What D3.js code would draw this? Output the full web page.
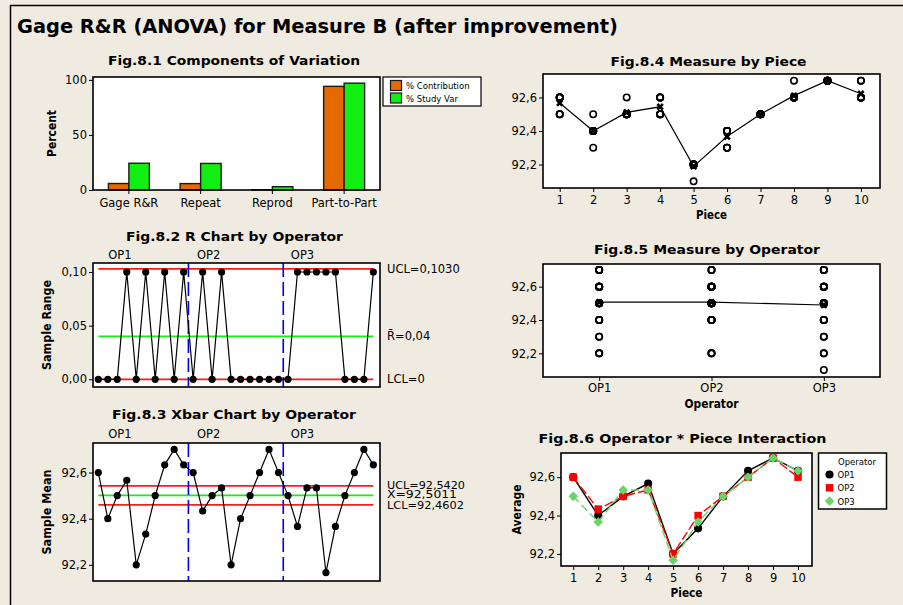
<!DOCTYPE html>
<meta charset="utf-8">
<style>
body { margin: 0; background: #efebe1; }
svg { display: block; }
text { font-family: 'DejaVu Sans', Verdana, sans-serif; fill: #000; }
</style>
<body>
<script src="https://d3js.org/d3.v7.min.js"></script>
<script>

// ---------- data ----------
var components = ["Gage R&R", "Repeat", "Reprod", "Part-to-Part"];
var pctContribution = [5.9, 5.8, 0.1, 94.1];
var pctStudyVar = [24.3, 24.1, 3.0, 97.0];
var varSeries = ["% Contribution", "% Study Var"];

var operators = ["OP1", "OP2", "OP3"];
var pieces = [1, 2, 3, 4, 5, 6, 7, 8, 9, 10];

// 3 trials per piece, per operator
var op1 = [[92.6, 92.6, 92.6], [92.4, 92.4, 92.4], [92.5, 92.5, 92.5], [92.6, 92.6, 92.5], [92.2, 92.2, 92.2],
           [92.3, 92.3, 92.4], [92.5, 92.5, 92.5], [92.6, 92.6, 92.7], [92.7, 92.7, 92.7], [92.6, 92.6, 92.7]];
var op2 = [[92.6, 92.6, 92.6], [92.4, 92.4, 92.5], [92.5, 92.5, 92.5], [92.5, 92.5, 92.6], [92.2, 92.2, 92.2],
           [92.4, 92.4, 92.4], [92.5, 92.5, 92.5], [92.6, 92.6, 92.6], [92.7, 92.7, 92.7], [92.6, 92.6, 92.6]];
var op3 = [[92.5, 92.5, 92.5], [92.4, 92.4, 92.3], [92.5, 92.5, 92.6], [92.5, 92.5, 92.6], [92.2, 92.2, 92.1],
           [92.4, 92.4, 92.3], [92.5, 92.5, 92.5], [92.6, 92.6, 92.6], [92.7, 92.7, 92.7], [92.6, 92.6, 92.7]];

var rUCL = 0.1030, rBar = 0.04, rLCL = 0;
var xUCL = 92.5420, xBar = 92.5011, xLCL = 92.4602;

var tickPercent = [0, 50, 100];
var tickRange = [0, 0.05, 0.10];
var tickMeasure = [92.2, 92.4, 92.6];

// ---------- derived ----------
var loc = d3.formatLocale({decimal: ",", thousands: ".", grouping: [3], currency: ["", ""]});
var f1 = loc.format(".1f"), f2 = loc.format(".2f"), f4 = loc.format(".4f");

var trials = [op1, op2, op3];
var subgroups = [];
trials.forEach(function(op, i) {
  op.forEach(function(vals, j) {
    subgroups.push({op: operators[i], piece: pieces[j], idx: i * pieces.length + j + 1,
      mean: d3.mean(vals), range: +(d3.max(vals) - d3.min(vals)).toFixed(3), vals: vals});
  });
});
var allPoints = [];
subgroups.forEach(function(s) { s.vals.forEach(function(v) { allPoints.push({op: s.op, piece: s.piece, v: v}); }); });
var pieceMeans = pieces.map(function(p) { return {piece: p, mean: d3.mean(allPoints.filter(function(d) { return d.piece === p; }), function(d) { return d.v; })}; });
var opMeans = operators.map(function(o) { return {op: o, mean: d3.mean(allPoints.filter(function(d) { return d.op === o; }), function(d) { return d.v; })}; });

// ---------- canvas ----------
var svg = d3.select("body").append("svg").attr("width", 903).attr("height", 605);
svg.append("rect").attr("width", 903).attr("height", 605).attr("fill", "#efebe1");
svg.append("path").attr("d", "M10.5,605V5.5H903").attr("fill", "none").attr("stroke", "#000").attr("stroke-width", 1.5);

svg.append("text").attr("x", 17).attr("y", 33)
    .attr("font-size", 20).attr("font-weight", "bold")
    .attr("textLength", 601).attr("lengthAdjust", "spacingAndGlyphs")
    .text("Gage R&R (ANOVA) for Measure B (after improvement)");

function title(str, cx, y, len) {
  svg.append("text").attr("x", cx).attr("y", y).attr("text-anchor", "middle")
      .attr("font-size", 13).attr("font-weight", "bold")
      .attr("textLength", len).attr("lengthAdjust", "spacingAndGlyphs").text(str);
}
function yTitle(str, x, cy, len) {
  svg.append("text").attr("transform", "translate(" + x + "," + cy + ") rotate(-90)")
      .attr("text-anchor", "middle").attr("dy", "0.35em")
      .attr("font-size", 12).attr("font-weight", "bold")
      .attr("textLength", len).attr("lengthAdjust", "spacingAndGlyphs").text(str);
}
function xTitle(str, cx, y, len) {
  svg.append("text").attr("x", cx).attr("y", y).attr("text-anchor", "middle")
      .attr("font-size", 12).attr("font-weight", "bold")
      .attr("textLength", len).attr("lengthAdjust", "spacingAndGlyphs").text(str);
}
function plotBg(p) {
  svg.append("rect").attr("x", p.l).attr("y", p.t).attr("width", p.r - p.l).attr("height", p.b - p.t).attr("fill", "#fff");
}
function frame(p) {
  svg.append("rect").attr("x", p.l).attr("y", p.t).attr("width", p.r - p.l).attr("height", p.b - p.t)
      .attr("fill", "none").attr("stroke", "#000").attr("stroke-width", 1.6);
}
function yAxis(p, y, ticks, fmt) {
  var g = svg.append("g").attr("transform", "translate(" + p.l + ",0)")
      .call(d3.axisLeft(y).tickValues(ticks).tickFormat(fmt).tickSize(4).tickPadding(2).tickSizeOuter(0));
  g.attr("font-size", 11.5).attr("font-family", null);
  g.select(".domain").remove();
}
function xAxis(p, x, ticks, pad) {
  var ax = d3.axisBottom(x).tickSize(4).tickPadding(pad).tickSizeOuter(0);
  if (ticks) ax.tickValues(ticks).tickFormat(d3.format("d"));
  var g = svg.append("g").attr("transform", "translate(0," + p.b + ")").call(ax);
  g.attr("font-size", 11.5).attr("font-family", null);
  g.select(".domain").remove();
}
function hline(x0, x1, yv, color) {
  svg.append("line").attr("x1", x0).attr("x2", x1).attr("y1", yv).attr("y2", yv)
      .attr("stroke", color).attr("stroke-width", 1.8);
}

// ---------- Fig 8.1 ----------
var p1 = {l: 93, t: 77, r: 380, b: 190};
var x1 = d3.scaleBand().domain(components).range([p1.l, p1.r]);
var x1s = d3.scaleBand().domain(varSeries).range([0, x1.bandwidth()]).paddingOuter(0.75);
var y1 = d3.scaleLinear().domain([0, 102.6]).range([p1.b, p1.t]);
var barColor = d3.scaleOrdinal().domain(varSeries).range(["#e46a00", "#11ee11"]);
title("Fig.8.1 Components of Variation", 234, 65, 252);
plotBg(p1);
var barData = [];
components.forEach(function(c, i) {
  barData.push({c: c, s: varSeries[0], v: pctContribution[i]});
  barData.push({c: c, s: varSeries[1], v: pctStudyVar[i]});
});
svg.append("g").selectAll("rect").data(barData).enter().append("rect")
    .attr("x", function(d) { return x1(d.c) + x1s(d.s); })
    .attr("width", x1s.bandwidth())
    .attr("y", function(d) { return y1(d.v); })
    .attr("height", function(d) { return y1(0) - y1(d.v); })
    .attr("fill", function(d) { return barColor(d.s); })
    .attr("stroke", "#1a1a1a").attr("stroke-width", 1.4);
frame(p1);
yAxis(p1, y1, tickPercent, d3.format("d"));
xAxis(p1, x1, null, 5);
yTitle("Percent", 52, (p1.t + p1.b) / 2, 47);

var lg1 = svg.append("g");
lg1.append("rect").attr("x", 383).attr("y", 77).attr("width", 98).attr("height", 29)
    .attr("fill", "#fff").attr("stroke", "#000").attr("stroke-width", 1.2);
varSeries.forEach(function(s, i) {
  lg1.append("rect").attr("x", 390.5).attr("y", 80.5 + i * 12.5).attr("width", 11).attr("height", 10)
      .attr("fill", barColor(s)).attr("stroke", "#1a1a1a").attr("stroke-width", 1.2);
  lg1.append("text").attr("x", 406).attr("y", 89 + i * 12.5).attr("font-size", 8.5).text(s);
});

// ---------- Fig 8.2 / 8.3 shared ----------
var idxDomain = [0.44, 30.7];
function opSections(p, x, labelY) {
  [10.5, 20.5].forEach(function(b) {
    svg.append("line").attr("x1", x(b)).attr("x2", x(b)).attr("y1", p.t).attr("y2", p.b)
        .attr("stroke", "#0000ee").attr("stroke-width", 1.6).attr("stroke-dasharray", "14,5");
  });
  [2.05, 11.4, 21.3].forEach(function(pos, i) {
    svg.append("text").attr("x", x(pos)).attr("y", labelY).attr("font-size", 11.5).text(operators[i]);
  });
}
function seriesLine(x, y, key) {
  svg.append("path").datum(subgroups)
      .attr("d", d3.line().x(function(d) { return x(d.idx); }).y(function(d) { return y(d[key]); }))
      .attr("fill", "none").attr("stroke", "#000").attr("stroke-width", 1.2);
  svg.append("g").selectAll("circle").data(subgroups).enter().append("circle")
      .attr("cx", function(d) { return x(d.idx); })
      .attr("cy", function(d) { return y(d[key]); })
      .attr("r", 3.6).attr("fill", "#000");
}

// ---------- Fig 8.2 ----------
var p2 = {l: 93, t: 263, r: 380, b: 387};
var x2 = d3.scaleLinear().domain(idxDomain).range([p2.l, p2.r]);
var y2 = d3.scaleLinear().domain([-0.0072, 0.1084]).range([p2.b, p2.t]);
title("Fig.8.2 R Chart by Operator", 234.5, 240.5, 217);
plotBg(p2);
hline(x2(1), x2(30), y2(rUCL), "#ff1a1a");
hline(x2(1), x2(30), y2(rBar), "#11ee11");
hline(x2(1), x2(30), y2(rLCL), "#ff1a1a");
opSections(p2, x2, 259);
seriesLine(x2, y2, "range");
frame(p2);
yAxis(p2, y2, tickRange, f2);
yTitle("Sample Range", 47, (p2.t + p2.b) / 2, 90);
svg.append("text").attr("x", 387).attr("y", y2(rUCL) + 4).attr("font-size", 11.5).text("UCL=" + f4(rUCL));
svg.append("text").attr("x", 387).attr("y", y2(rBar) + 4).attr("font-size", 11.5).text("R\u0304=" + f2(rBar));
svg.append("text").attr("x", 387).attr("y", y2(rLCL) + 4).attr("font-size", 11.5).text("LCL=" + rLCL);

// ---------- Fig 8.3 ----------
var p3 = {l: 93, t: 443, r: 380, b: 581};
var x3 = d3.scaleLinear().domain(idxDomain).range([p3.l, p3.r]);
var y3 = d3.scaleLinear().domain([92.13, 92.728]).range([p3.b, p3.t]);
title("Fig.8.3 Xbar Chart by Operator", 234, 419, 244);
plotBg(p3);
hline(x3(1), x3(30), y3(xUCL), "#ff1a1a");
hline(x3(1), x3(30), y3(xBar), "#11ee11");
hline(x3(1), x3(30), y3(xLCL), "#ff1a1a");
opSections(p3, x3, 438);
seriesLine(x3, y3, "mean");
frame(p3);
yAxis(p3, y3, tickMeasure, f1);
yTitle("Sample Mean", 47, (p3.t + p3.b) / 2, 85);
// the three limit labels sit tight together, as in the original
svg.append("text").attr("x", 387).attr("y", y3(xUCL) + 3).attr("font-size", 10.5)
    .attr("textLength", 78).attr("lengthAdjust", "spacingAndGlyphs").text("UCL=" + f4(xUCL));
svg.append("text").attr("x", 387).attr("y", y3(xBar) + 2.5).attr("font-size", 10.5)
    .attr("textLength", 70).attr("lengthAdjust", "spacingAndGlyphs").text("X\u0304=" + f4(xBar));
svg.append("text").attr("x", 387).attr("y", y3(xLCL) + 4).attr("font-size", 10.5)
    .attr("textLength", 77).attr("lengthAdjust", "spacingAndGlyphs").text("LCL=" + f4(xLCL));

// ---------- Fig 8.4 ----------
var crossSym = d3.symbol().type(d3.symbolCross).size(34);
var p4 = {l: 543, t: 74, r: 880, b: 188};
var x4 = d3.scaleLinear().domain([0.5, 10.57]).range([p4.l, p4.r]);
var y4 = d3.scaleLinear().domain([92.06, 92.74]).range([p4.b, p4.t]);
title("Fig.8.4 Measure by Piece", 708.5, 66, 196);
plotBg(p4);
svg.append("g").selectAll("circle").data(allPoints).enter().append("circle")
    .attr("cx", function(d) { return x4(d.piece); })
    .attr("cy", function(d) { return y4(d.v); })
    .attr("r", 3.2).attr("fill", "none").attr("stroke", "#000").attr("stroke-width", 1.6);
svg.append("path").datum(pieceMeans)
    .attr("d", d3.line().x(function(d) { return x4(d.piece); }).y(function(d) { return y4(d.mean); }))
    .attr("fill", "none").attr("stroke", "#000").attr("stroke-width", 1.2);
svg.append("g").selectAll("path").data(pieceMeans).enter().append("path")
    .attr("d", crossSym)
    .attr("transform", function(d) { return "translate(" + x4(d.piece) + "," + y4(d.mean) + ") rotate(45)"; })
    .attr("fill", "#000");
frame(p4);
yAxis(p4, y4, tickMeasure, f1);
xAxis(p4, x4, pieces, 4);
xTitle("Piece", (p4.l + p4.r) / 2, 219, 31);

// ---------- Fig 8.5 ----------
var p5 = {l: 543, t: 264, r: 880, b: 377};
var x5 = d3.scalePoint().domain(operators).range([p5.l, p5.r]).padding(0.5);
var y5 = d3.scaleLinear().domain([92.058, 92.736]).range([p5.b, p5.t]);
title("Fig.8.5 Measure by Operator", 707, 254, 226);
plotBg(p5);
svg.append("g").selectAll("circle").data(allPoints).enter().append("circle")
    .attr("cx", function(d) { return x5(d.op); })
    .attr("cy", function(d) { return y5(d.v); })
    .attr("r", 3.2).attr("fill", "none").attr("stroke", "#000").attr("stroke-width", 1.6);
svg.append("path").datum(opMeans)
    .attr("d", d3.line().x(function(d) { return x5(d.op); }).y(function(d) { return y5(d.mean); }))
    .attr("fill", "none").attr("stroke", "#000").attr("stroke-width", 1.2);
svg.append("g").selectAll("path").data(opMeans).enter().append("path")
    .attr("d", crossSym)
    .attr("transform", function(d) { return "translate(" + x5(d.op) + "," + y5(d.mean) + ") rotate(45)"; })
    .attr("fill", "#000");
frame(p5);
yAxis(p5, y5, tickMeasure, f1);
xAxis(p5, x5, null, 3);
xTitle("Operator", (p5.l + p5.r) / 2, 407.5, 54);

// ---------- Fig 8.6 ----------
var p6 = {l: 561, t: 453, r: 812, b: 566};
var x6 = d3.scaleLinear().domain([0.51, 10.56]).range([p6.l, p6.r]);
var y6 = d3.scaleLinear().domain([92.137, 92.726]).range([p6.b, p6.t]);
var opColor = d3.scaleOrdinal().domain(operators).range(["#000000", "#ff0000", "#6ad46a"]);
var opDash = d3.scaleOrdinal().domain(operators).range([null, "9,3", "8,4"]);
var opSym = d3.scaleOrdinal().domain(operators).range([
  d3.symbol().type(d3.symbolCircle).size(52),
  d3.symbol().type(d3.symbolSquare).size(56),
  d3.symbol().type(d3.symbolSquare).size(46)]);
var opRot = d3.scaleOrdinal().domain(operators).range([0, 0, 45]);
title("Fig.8.6  Operator * Piece Interaction", 682.5, 442.5, 288);
plotBg(p6);
operators.forEach(function(o) {
  var rows = subgroups.filter(function(d) { return d.op === o; });
  svg.append("path").datum(rows)
      .attr("d", d3.line().x(function(d) { return x6(d.piece); }).y(function(d) { return y6(d.mean); }))
      .attr("fill", "none").attr("stroke", opColor(o)).attr("stroke-width", 1.4)
      .attr("stroke-dasharray", opDash(o));
  svg.append("g").selectAll("path").data(rows).enter().append("path")
      .attr("d", opSym(o))
      .attr("transform", function(d) { return "translate(" + x6(d.piece) + "," + y6(d.mean) + ") rotate(" + opRot(o) + ")"; })
      .attr("fill", opColor(o));
});
frame(p6);
yAxis(p6, y6, tickMeasure, f1);
xAxis(p6, x6, pieces, 3.5);
xTitle("Piece", (p6.l + p6.r) / 2, 596.5, 32);
yTitle("Average", 516.5, (p6.t + p6.b) / 2, 50);

var lg6 = svg.append("g");
lg6.append("rect").attr("x", 818.5).attr("y", 453).attr("width", 68).attr("height", 56)
    .attr("fill", "#fff").attr("stroke", "#000").attr("stroke-width", 1.5);
lg6.append("text").attr("x", 838).attr("y", 465).attr("font-size", 8.5).text("Operator");
operators.forEach(function(o, i) {
  lg6.append("path").attr("d", opSym(o))
      .attr("transform", "translate(829.5," + (474.5 + i * 13.3) + ") rotate(" + opRot(o) + ")")
      .attr("fill", opColor(o));
  lg6.append("text").attr("x", 837.5).attr("y", 478 + i * 13.3).attr("font-size", 8.5).text(o);
});

</script>
